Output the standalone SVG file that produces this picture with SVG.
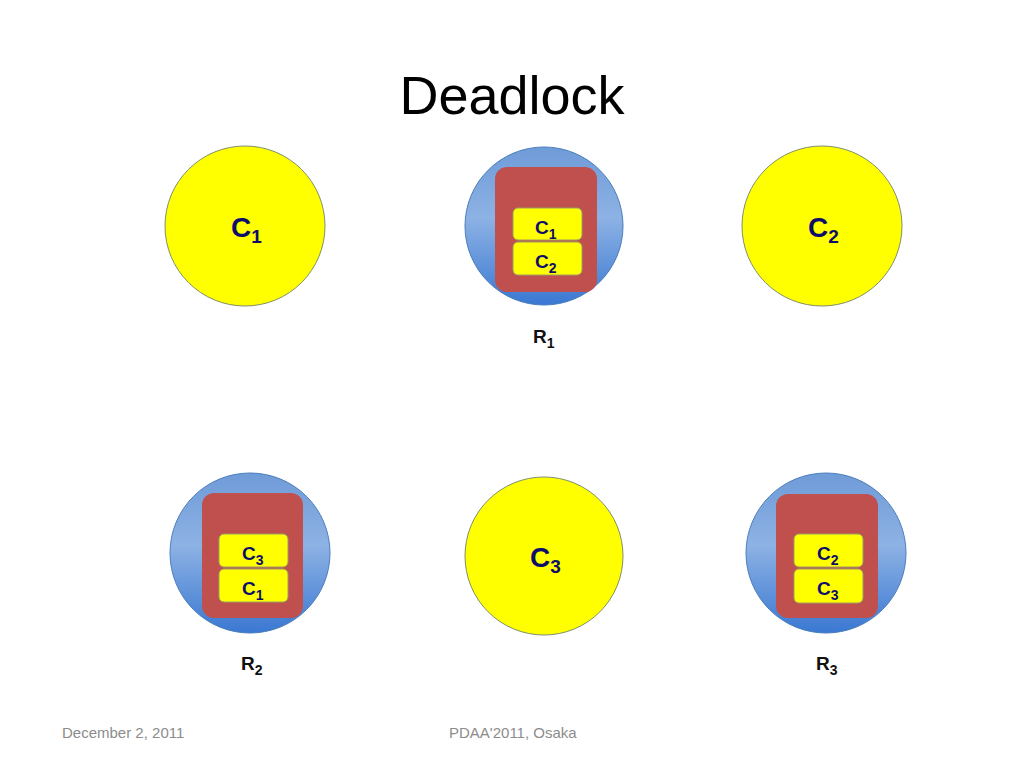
<svg xmlns="http://www.w3.org/2000/svg" width="1024" height="768" viewBox="0 0 1024 768">
<defs>
<linearGradient id="blueGrad" x1="0" y1="0" x2="0" y2="1">
<stop offset="0" stop-color="#6f9bd8"/>
<stop offset="0.45" stop-color="#8db2e4"/>
<stop offset="1" stop-color="#3a78d2"/>
</linearGradient>
<style>
.bg{fill:#ffffff}
.yc{fill:#ffff00;stroke:#7f8f6a;stroke-width:1}
.bc{fill:url(#blueGrad);stroke:#4a7ebb;stroke-width:1}
.red{fill:#c0504d}
.box{fill:#ffff00;stroke:#9aa060;stroke-width:1}
.big{font-family:"Liberation Sans",Arial,sans-serif;font-weight:bold;font-size:28px;fill:#0d0d6b}
.sm{font-family:"Liberation Sans",Arial,sans-serif;font-weight:bold;font-size:19px;fill:#0d0d6b}
.lab{font-family:"Liberation Sans",Arial,sans-serif;font-weight:bold;font-size:19px;fill:#111111}
.title{font-family:"Liberation Sans",Arial,sans-serif;font-size:54px;fill:#000000}
.foot{font-family:"Liberation Sans",Arial,sans-serif;font-size:15px;fill:#8c8c8c}
</style>
</defs>
<rect class="bg" x="0" y="0" width="1024" height="768"/>
<text class="title" x="512" y="114" text-anchor="middle">Deadlock</text>

<g id="C1">
<circle class="yc" cx="245" cy="226" r="80"/>
<text class="big" x="231" y="237">C<tspan font-size="19" dy="6">1</tspan></text>
</g>

<g id="C2">
<circle class="yc" cx="822" cy="226" r="80"/>
<text class="big" x="808" y="237">C<tspan font-size="19" dy="6">2</tspan></text>
</g>

<g id="C3">
<circle class="yc" cx="544" cy="556" r="79"/>
<text class="big" x="530" y="567">C<tspan font-size="19" dy="6">3</tspan></text>
</g>

<g id="R1">
<circle class="bc" cx="544" cy="226" r="79"/>
<rect class="red" x="495" y="167" width="102" height="125" rx="12"/>
<rect class="box" x="513" y="208" width="69" height="32" rx="5"/>
<rect class="box" x="513" y="242" width="69" height="33" rx="5"/>
<text class="sm" x="535" y="234">C<tspan font-size="14" dy="5">1</tspan></text>
<text class="sm" x="535" y="268">C<tspan font-size="14" dy="5">2</tspan></text>
<text class="lab" x="533" y="343">R<tspan font-size="14" dy="5">1</tspan></text>
</g>

<g id="R2">
<circle class="bc" cx="250" cy="553" r="80"/>
<rect class="red" x="202" y="493" width="101" height="125" rx="12"/>
<rect class="box" x="219" y="534" width="69" height="33" rx="5"/>
<rect class="box" x="219" y="569" width="69" height="33" rx="5"/>
<text class="sm" x="242" y="560">C<tspan font-size="14" dy="5">3</tspan></text>
<text class="sm" x="242" y="595">C<tspan font-size="14" dy="5">1</tspan></text>
<text class="lab" x="241" y="670">R<tspan font-size="14" dy="5">2</tspan></text>
</g>

<g id="R3">
<circle class="bc" cx="826" cy="553" r="80"/>
<rect class="red" x="776" y="494" width="102" height="124" rx="12"/>
<rect class="box" x="794" y="534" width="69" height="33" rx="5"/>
<rect class="box" x="794" y="569" width="69" height="34" rx="5"/>
<text class="sm" x="817" y="560">C<tspan font-size="14" dy="5">2</tspan></text>
<text class="sm" x="817" y="595">C<tspan font-size="14" dy="5">3</tspan></text>
<text class="lab" x="816" y="670">R<tspan font-size="14" dy="5">3</tspan></text>
</g>

<text class="foot" x="62" y="738">December 2, 2011</text>
<text class="foot" x="449" y="738">PDAA'2011, Osaka</text>
</svg>
